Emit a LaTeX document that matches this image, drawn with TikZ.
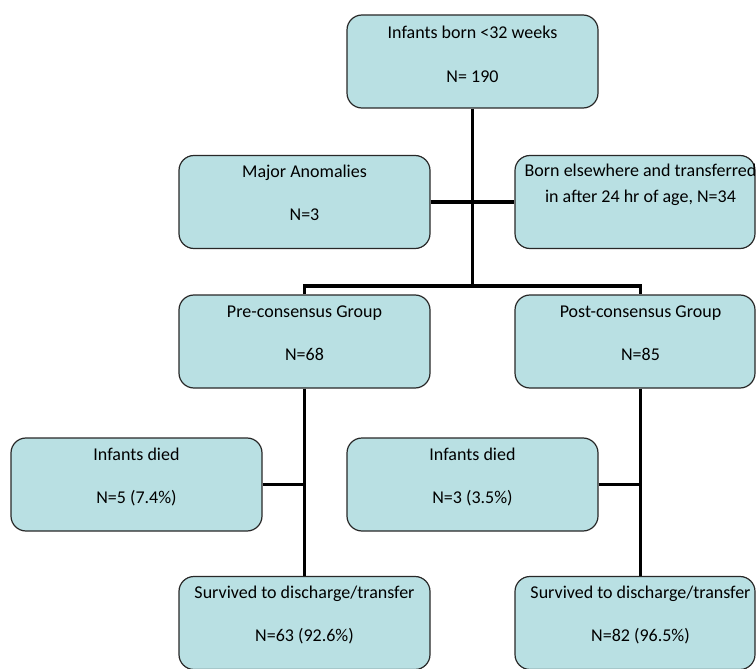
\documentclass[tikz,border=0pt]{standalone}
\usepackage{fontspec}
\setmainfont{Carlito}
\definecolor{boxfill}{RGB}{185,224,227}
\definecolor{boxline}{RGB}{40,40,40}
\tikzset{
  box/.style={draw=boxline, line width=1.2pt, fill=boxfill, rounded corners=15pt,
    minimum width=251pt, minimum height=93pt, inner sep=0pt},
  boxr/.style={box, minimum width=240pt},
  txt/.style={anchor=base, inner sep=0pt, font=\fontsize{18pt}{22pt}\selectfont},
  conn/.style={line width=3.2pt, black, line join=miter},
}
\begin{document}
\begin{tikzpicture}[x=1pt, y=-1pt]
\useasboundingbox (0,0) rectangle (756,669);
% boxes
\node[box]  (top)    at (472.5,61.5) {};
\node[box]  (major)  at (304.5,202) {};
\node[boxr] (born)   at (635,202) {};
\node[box]  (pre)    at (304.5,341.5) {};
\node[boxr] (post)   at (635,341.5) {};
\node[box]  (diedL)  at (136.5,484.5) {};
\node[box]  (diedR)  at (472.5,484.5) {};
\node[box]  (survL)  at (304.5,623) {};
\node[boxr] (survR)  at (635,623) {};
% texts
\node[txt] (t1a) at ([yshift=-24pt]top.north) {Infants born <32 weeks};
\node[txt] (t1b) at ([yshift=-68pt]top.north) {N= 190};
\node[txt] (t2a) at ([yshift=-23pt]major.north) {Major Anomalies};
\node[txt] (t2b) at ([yshift=-66pt]major.north) {N=3};
\node[txt] (t3a) at ([xshift=5.5pt,yshift=-22pt]born.north) {Born elsewhere and transferred};
\node[txt] (t3b) at ([xshift=5.5pt,yshift=-48pt]born.north) {in after 24 hr of age, N=34};
\node[txt] (t4a) at ([yshift=-23pt]pre.north) {Pre-consensus Group};
\node[txt] (t4b) at ([yshift=-66pt]pre.north) {N=68};
\node[txt] (t5a) at ([xshift=5.5pt,yshift=-23pt]post.north) {Post-consensus Group};
\node[txt] (t5b) at ([xshift=5.5pt,yshift=-66pt]post.north) {N=85};
\node[txt] (t6a) at ([yshift=-23pt]diedL.north) {Infants died};
\node[txt] (t6b) at ([yshift=-66pt]diedL.north) {N=5 (7.4\%)};
\node[txt] (t7a) at ([yshift=-23pt]diedR.north) {Infants died};
\node[txt] (t7b) at ([yshift=-66pt]diedR.north) {N=3 (3.5\%)};
\node[txt] (t8a) at ([yshift=-23pt]survL.north) {Survived to discharge/transfer};
\node[txt] (t8b) at ([yshift=-66pt]survL.north) {N=63 (92.6\%)};
\node[txt] (t9a) at ([xshift=5.5pt,yshift=-23pt]survR.north) {Survived to discharge/transfer};
\node[txt] (t9b) at ([xshift=5.5pt,yshift=-66pt]survR.north) {N=82 (96.5\%)};
% junction coordinates
\coordinate (jtop) at (472.5,286);
\coordinate (jL) at (304.5,286);
\coordinate (jR) at (640.5,286);
% connectors
\draw[conn] (top.south) -- (jtop);
\draw[conn] (major.east) -- (born.west);
\draw[conn] (jL |- pre.north) -- (jL) -- (jR) -- (jR |- post.north);
\draw[conn] (pre.south) -- (survL.north);
\draw[conn] (jR |- post.south) -- (jR |- survR.north);
\draw[conn] (diedL.east) -- (diedL.east -| pre.south);
\draw[conn] (diedR.east) -- (diedR.east -| jR);
\end{tikzpicture}
\end{document}
